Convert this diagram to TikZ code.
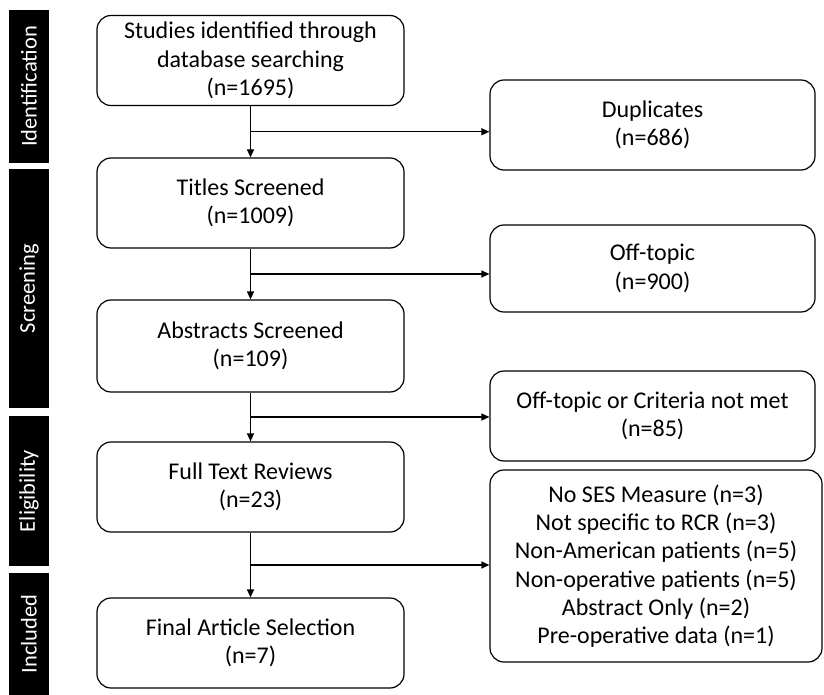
\documentclass[tikz,border=0pt]{standalone}
\usepackage{fontspec}
\setmainfont{Carlito}
\usetikzlibrary{arrows.meta,calc}
\begin{document}
\begin{tikzpicture}[x=1pt,y=-1pt,
  box/.style={draw, line width=1.2pt, rounded corners=14pt, align=center, inner sep=0pt,
    font=\fontsize{24}{28.3}\selectfont},
  lbox/.style={box, minimum width=307pt, minimum height=90pt},
  rbox/.style={box, minimum width=325pt, minimum height=90pt},
  arr/.style={line width=1.2pt, -{Triangle[length=8pt,width=7pt]}},
  bar/.style={fill=black, draw=none},
  barlabel/.style={text=white, rotate=90, font=\fontsize{22.5}{27}\selectfont}]
\useasboundingbox (0,0) rectangle (824,695);
% side bars
\fill[bar] (9,10) rectangle (49,163);
\node[barlabel] (l1) at (29,86.5) {Identification};
\fill[bar] (9,169) rectangle (49,408);
\node[barlabel] (l2) at (29,288.5) {Screening};
\fill[bar] (9,416) rectangle (49,566);
\node[barlabel] (l3) at (29,491) {Eligibility};
\fill[bar] (9,573) rectangle (49,695);
\node[barlabel] (l4) at (29,634) {Included};
% left boxes
\node[lbox] (b1) at (250.5,60.5) {Studies identified through\\database searching\\(n=1695)};
\node[lbox] (b2) at (250.5,203) {Titles Screened\\(n=1009)};
\node[lbox, minimum height=92pt] (b3) at (250.5,346) {Abstracts Screened\\(n=109)};
\node[lbox] (b4) at (250.5,487) {Full Text Reviews\\(n=23)};
\node[lbox] (b5) at (250.5,643) {Final Article Selection\\(n=7)};
% right boxes
\node[rbox] (r1) at (652.5,125) {Duplicates\\(n=686)};
\node[rbox, minimum height=87pt] (r2) at (652.5,268.5) {Off-topic\\(n=900)};
\node[rbox] (r3) at (652.5,416) {Off-topic or Criteria not met\\(n=85)};
\node[box, minimum width=332pt, minimum height=192pt] (r4) at (656,566) {No SES Measure (n=3)\\Not specific to RCR (n=3)\\Non-American patients (n=5)\\Non-operative patients (n=5)\\Abstract Only (n=2)\\Pre-operative data (n=1)};
% connectors
\foreach \a/\b/\r in {b1/b2/r1, b2/b3/r2, b3/b4/r3, b4/b5/r4}{
  \draw[arr] (\a.south) -- (\b.north);
  \coordinate (m) at ($(\a.south)!0.5!(\b.north)$);
  \draw[arr] (m) -- (m -| \r.west);
}
\end{tikzpicture}
\end{document}
